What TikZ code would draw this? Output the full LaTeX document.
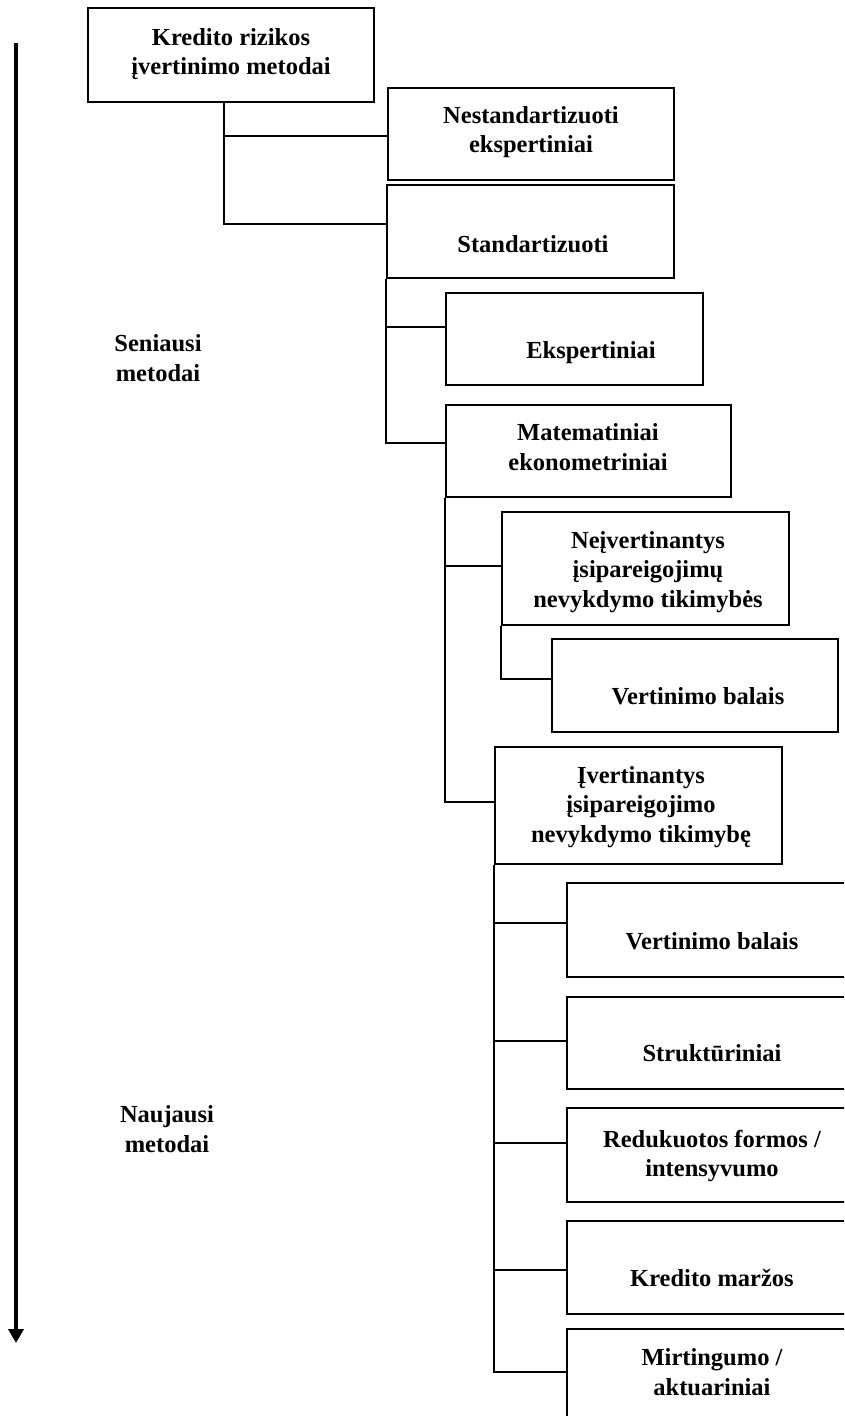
\documentclass[tikz,border=0pt]{standalone}
\usepackage{fontspec}
\setmainfont{Liberation Serif}
\usetikzlibrary{arrows.meta}
\begin{document}
\begin{tikzpicture}[x=1pt,y=-1pt,
  box/.style={draw, line width=1.9pt, rectangle, inner sep=0pt},
  lbl/.style={align=center, font=\bfseries\fontsize{24.5}{29.5}\selectfont, inner sep=0pt},
  link/.style={line width=1.8pt}]
\useasboundingbox (0,0) rectangle (844,1416);
\clip (0,0) rectangle (844,1416);

% time axis on the left
\coordinate (axtop) at (16,43);
\coordinate (axbot) at (16,1343);
\draw[line width=4.2pt, -{Triangle[width=15pt,length=14pt]}] (axtop) -- (axbot);
\node[lbl] (old) at (158,358) {Seniausi\\metodai};
\node[lbl] (new) at (167,1129) {Naujausi\\metodai};

% boxes
\node[box, minimum width=286pt, minimum height=94pt] (b1) at (231,55) {};
\node[box, minimum width=286pt, minimum height=92pt] (b2) at (531,134) {};
\node[box, minimum width=287pt, minimum height=93pt] (b3) at (530.5,231.5) {};
\node[box, minimum width=257pt, minimum height=92pt] (b4) at (574.5,339) {};
\node[box, minimum width=285pt, minimum height=92pt] (b5) at (588.5,451) {};
\node[box, minimum width=287pt, minimum height=113pt] (b6) at (645.5,568.5) {};
\node[box, minimum width=286pt, minimum height=93pt] (b7) at (695,685.5) {};
\node[box, minimum width=287pt, minimum height=117pt] (b8) at (638.5,805.5) {};
\node[box, minimum width=290pt, minimum height=94pt] (b9) at (712,930) {};
\node[box, minimum width=290pt, minimum height=92pt] (b10) at (712,1043) {};
\node[box, minimum width=290pt, minimum height=94pt] (b11) at (712,1155) {};
\node[box, minimum width=290pt, minimum height=93pt] (b12) at (712,1267.5) {};
\node[box, minimum width=290pt, minimum height=93pt] (b13) at (712,1375.5) {};

% box texts
\node[lbl] (t1) at (231,54) {Kredito rizikos\\įvertinimo metodai};
\node[lbl] (t2) at (531,132) {Nestandartizuoti\\ekspertiniai};
\node[lbl] (t3) at (533,244) {Standartizuoti};
\node[lbl] (t4) at (591,353) {Ekspertiniai};
\node[lbl] (t5) at (588,447) {Matematiniai\\ekonometriniai};
\node[lbl] (t6) at (648,572) {Neįvertinantys\\įsipareigojimų\\nevykdymo tikimybės};
\node[lbl] (t7) at (698,696) {Vertinimo balais};
\node[lbl] (t8) at (641,807) {Įvertinantys\\įsipareigojimo\\nevykdymo tikimybę};
\node[lbl] (t9) at (712,941.5) {Vertinimo balais};
\node[lbl] (t10) at (712,1053) {Struktūriniai};
\node[lbl] (t11) at (712,1156) {Redukuotos formos /\\intensyvumo};
\node[lbl] (t12) at (712,1278) {Kredito maržos};
\node[lbl] (t13) at (712,1372) {Mirtingumo /\\aktuariniai};

% tree connectors
\coordinate (jA) at (224,224);
\coordinate (jA1) at (224,136);
\draw[link] (b1.south -| jA) -- (jA) -- (b3.west |- jA);
\draw[link] (jA1) -- (b2.west |- jA1);

\coordinate (jB) at (b3.south west |- 0,443);
\coordinate (jB1) at (b3.south west |- 0,327);
\draw[link] (b3.south west) -- (jB) -- (b5.west |- jB);
\draw[link] (jB1) -- (b4.west |- jB1);

\coordinate (jC) at (b5.south west |- 0,802);
\coordinate (jC1) at (b5.south west |- 0,566);
\draw[link] (b5.south west) -- (jC) -- (b8.west |- jC);
\draw[link] (jC1) -- (b6.west |- jC1);

\coordinate (jD) at (b6.south west |- 0,679);
\draw[link] (b6.south west) -- (jD) -- (b7.west |- jD);

\coordinate (jE) at (b8.south west |- 0,1372);
\coordinate (jE1) at (b8.south west |- 0,923);
\coordinate (jE2) at (b8.south west |- 0,1041);
\coordinate (jE3) at (b8.south west |- 0,1143);
\coordinate (jE4) at (b8.south west |- 0,1270);
\draw[link] (b8.south west) -- (jE) -- (b13.west |- jE);
\draw[link] (jE1) -- (b9.west |- jE1);
\draw[link] (jE2) -- (b10.west |- jE2);
\draw[link] (jE3) -- (b11.west |- jE3);
\draw[link] (jE4) -- (b12.west |- jE4);
\end{tikzpicture}
\end{document}
